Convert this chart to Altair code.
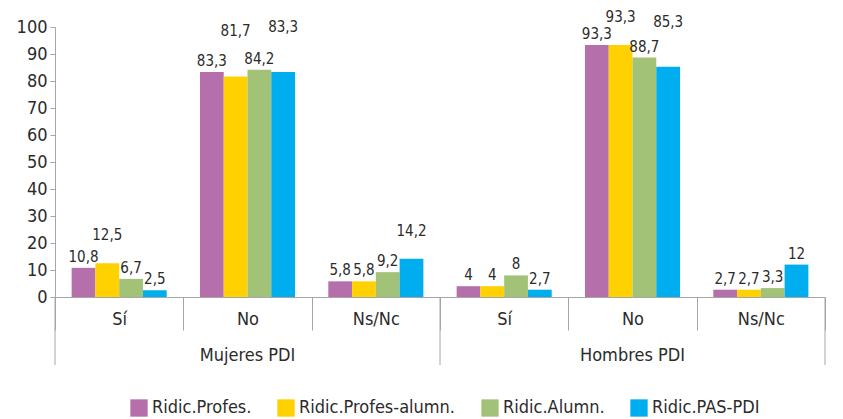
import altair as alt
import pandas as pd

grupos = ["Mujeres PDI", "Hombres PDI"]
respuestas = ["Sí", "No", "Ns/Nc"]
series = ["Ridic.Profes.", "Ridic.Profes-alumn.", "Ridic.Alumn.", "Ridic.PAS-PDI"]
profes = [10.8, 83.3, 5.8, 4, 93.3, 2.7]
profes_alumn = [12.5, 81.7, 5.8, 4, 93.3, 2.7]
alumn = [6.7, 84.2, 9.2, 8, 88.7, 3.3]
pas_pdi = [2.5, 83.3, 14.2, 2.7, 85.3, 12]
colores = ["#B570AB", "#FFD100", "#A2C377", "#00AEEF"]

FONT = "DejaVu Sans Condensed, Roboto, sans-serif"
TXT = "#2b2b2b"
AX = "#a6a6a6"
W, H = 770, 270
LBL_SIZE = 15
LVL_STEP = 17
PAD_OUT = 0.7

keys = [f"{g}|{r}" for g in grupos for r in respuestas]
rows = []
for si, (s, vals) in enumerate(zip(series, [profes, profes_alumn, alumn, pas_pdi])):
    for k, v in zip(keys, vals):
        rows.append({"key": k, "serie": s, "idx": si, "valor": v,
                     "etiqueta": f"{v:g}".replace(".", ",")})
df = pd.DataFrame(rows)

# stagger value labels (like the spreadsheet does) so that neighbours don't collide
step = W / len(keys) / (len(series) + 2 * PAD_OUT)
def text_w(t):
    return sum(8.6 if c.isdigit() else 4.3 for c in t) * LBL_SIZE / 15
levels = {}
for k in keys:
    placed = []
    sub = df[df.key == k].sort_values("idx")
    for _, r in sub.iterrows():
        y0 = H * (1 - r.valor / 100)
        cx = r.idx * step
        w = text_w(r.etiqueta)
        L = 0
        while True:
            bottom = y0 - 3 - LVL_STEP * L
            top = bottom - LVL_STEP
            clash = any(abs(cx - pcx) < (w + pw) / 2 + 1 and top < pb and pt < bottom
                        for pcx, pw, pt, pb in placed)
            if not clash:
                break
            L += 1
        placed.append((cx, w, top, bottom))
        levels[(k, r.idx)] = L
df["nivel"] = [levels[(k, i)] for k, i in zip(df.key, df.idx)]

xscale = alt.Scale(domain=keys, paddingInner=0, paddingOuter=0)
offscale = alt.Scale(domain=series, paddingOuter=PAD_OUT, paddingInner=0)
yscale = alt.Scale(domain=[0, 100])

x_axis = alt.Axis(
    title=None, labelExpr="split(datum.value, '|')[1]", labelAngle=0,
    tickBand="extent", tickSize=33, labelPadding=-20, domainColor=AX,
    tickColor=AX, labelFontSize=18, labelColor=TXT, labelFont=FONT)
x_enc = alt.X("key:N", scale=xscale, axis=x_axis)
y_axis = alt.Axis(
    title=None, values=list(range(0, 101, 10)), grid=False, tickSize=5,
    domainColor=AX, tickColor=AX, labelFontSize=18, labelColor=TXT,
    labelFont=FONT, labelPadding=3, labelOverlap=False)
y_enc = alt.Y("valor:Q", scale=yscale, axis=y_axis)
xo_enc = alt.XOffset("serie:N", scale=offscale)

base = alt.Chart(df)
bars = base.mark_bar().encode(
    x=x_enc,
    xOffset=xo_enc,
    y=y_enc,
    color=alt.Color("serie:N", scale=alt.Scale(domain=series, range=colores),
                    legend=alt.Legend(title=None, orient="none", legendX=75, legendY=372,
                                      direction="horizontal", symbolType="square",
                                      symbolSize=300, symbolStrokeWidth=0,
                                      labelFontSize=18, labelColor=TXT, labelFont=FONT,
                                      columnPadding=25, labelOffset=4)),
)

text_layers = []
for L in sorted(df.nivel.unique()):
    text_layers.append(
        base.mark_text(baseline="bottom", dy=-3 - LVL_STEP * int(L), fontSize=LBL_SIZE,
                       color=TXT, font=FONT).encode(
            x=x_enc, xOffset=xo_enc, y=y_enc, text="etiqueta:N"
        ).transform_filter(f"datum.nivel == {int(L)}"))

sep_start = pd.DataFrame({"key": [f"{g}|{respuestas[0]}" for g in grupos]})
sep_end = pd.DataFrame({"key": [f"{grupos[-1]}|{respuestas[-1]}"]})
rule_start = alt.Chart(sep_start).mark_rule(color=AX).encode(
    x=alt.X("key:N", scale=xscale, bandPosition=0, axis=x_axis), y=alt.value(H), y2=alt.value(H + 68))
rule_end = alt.Chart(sep_end).mark_rule(color=AX).encode(
    x=alt.X("key:N", scale=xscale, bandPosition=1, axis=x_axis), y=alt.value(H), y2=alt.value(H + 68))

grp_df = pd.DataFrame({"key": [f"{g}|{respuestas[1]}" for g in grupos], "grupo": grupos})
grp_txt = alt.Chart(grp_df).mark_text(baseline="middle", fontSize=18, color=TXT, font=FONT).encode(
    x=x_enc, y=alt.value(H + 59), text="grupo:N")

chart = alt.layer(bars, *text_layers, rule_start, rule_end, grp_txt).properties(
    width=W, height=H,
    autosize=alt.AutoSizeParams(type="none"),
    padding={"left": 47, "top": 19, "right": 5, "bottom": 120},
).configure_view(stroke=None)

chart.save("out.html", embed_options={"renderer": "svg", "actions": False})
